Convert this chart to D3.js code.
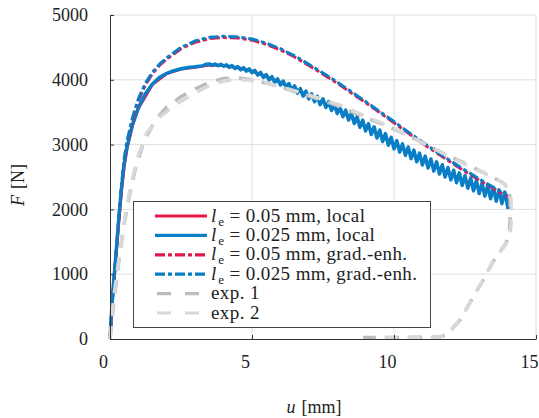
<!DOCTYPE html>
<html>
<head>
<meta charset="utf-8">
<script src="https://cdn.jsdelivr.net/npm/d3@7"></script>
<style>
  html, body { margin: 0; padding: 0; background: #fff; }
  svg text { font-family: 'Liberation Serif', 'Times New Roman', serif; fill: #222; }
</style>
</head>
<body>
<div class="graph-container"></div>
<script>
// displacement u [mm] vs force F [N]
const localRed = [
    [0, 0], [0.1, 700], [0.2, 1230], [0.3, 1780], [0.4, 2280], [0.5, 2680], [0.6, 2950], [0.8, 3310],
    [1.0, 3560], [1.5, 3930], [2.0, 4095], [2.5, 4165], [3.0, 4195], [3.5, 4230], [4.0, 4220], [4.5, 4185],
    [5.0, 4135], [5.5, 4050], [6.0, 3960], [6.5, 3860], [7.0, 3755], [7.5, 3650], [8.0, 3540], [8.5, 3420],
    [9.0, 3280], [9.5, 3150], [10.0, 3010], [10.5, 2885], [11.0, 2765], [11.5, 2650], [12.0, 2540],
    [12.5, 2435], [13.0, 2335], [13.5, 2240], [14.0, 2150], [14.02, 2010]
];
const localBlue = [
    [0, 0], [0.05, 380], [0.1, 720], [0.2, 1250], [0.3, 1800], [0.4, 2300], [0.5, 2700], [0.6, 2960],
    [0.8, 3320], [1.0, 3570], [1.25, 3790], [1.5, 3940], [1.75, 4040], [2.0, 4100], [2.25, 4140],
    [2.5, 4170], [2.75, 4190], [3.0, 4200], [3.25, 4215], [3.4, 4240],
    [3.5, 4245], [3.6, 4222], [3.7, 4243], [3.8, 4216], [3.9, 4241], [4.0, 4210], [4.1, 4233], [4.2, 4192],
    [4.3, 4219], [4.4, 4174], [4.5, 4205], [4.6, 4154], [4.7, 4187], [4.8, 4132], [4.9, 4169], [5.0, 4110],
    [5.1, 4144], [5.2, 4073], [5.3, 4113], [5.4, 4036], [5.5, 4082], [5.6, 3998], [5.7, 4049], [5.8, 3959],
    [5.9, 4016], [6.0, 3920], [6.1, 3981], [6.2, 3878], [6.3, 3943], [6.4, 3836], [6.5, 3905], [6.6, 3793],
    [6.7, 3865], [6.8, 3749], [6.9, 3825], [7.0, 3705], [7.1, 3785], [7.2, 3661], [7.3, 3745], [7.4, 3617],
    [7.5, 3705], [7.6, 3572], [7.7, 3663], [7.8, 3526], [7.9, 3621], [8.0, 3480], [8.1, 3577], [8.2, 3430],
    [8.3, 3531], [8.4, 3380], [8.5, 3485], [8.6, 3326], [8.7, 3431], [8.8, 3268], [8.9, 3377], [9.0, 3210],
    [9.1, 3325], [9.2, 3156], [9.3, 3275], [9.4, 3102], [9.5, 3224], [9.6, 3048], [9.7, 3169], [9.8, 2991],
    [9.9, 3113], [10.0, 2935], [10.1, 3061], [10.2, 2884], [10.3, 3012], [10.4, 2833], [10.5, 2963],
    [10.6, 2783], [10.7, 2916], [10.8, 2734], [10.9, 2869], [11.0, 2685], [11.1, 2823], [11.2, 2638],
    [11.3, 2778], [11.4, 2591], [11.5, 2733], [11.6, 2545], [11.7, 2690], [11.8, 2500], [11.9, 2647],
    [12.0, 2455], [12.1, 2605], [12.2, 2412], [12.3, 2564], [12.4, 2369], [12.5, 2523], [12.6, 2327],
    [12.7, 2484], [12.8, 2286], [12.9, 2445], [13.0, 2245], [13.1, 2407], [13.2, 2205], [13.3, 2371],
    [13.4, 2165], [13.5, 2335], [13.6, 2126], [13.7, 2301], [13.8, 2088], [13.9, 2267], [14.0, 2050],
    [14.02, 2010]
];
const gradRed = [
    [0, 0], [0.1, 690], [0.2, 1220], [0.3, 1790], [0.4, 2310], [0.5, 2740], [0.6, 3020], [0.8, 3390],
    [1.0, 3680], [1.25, 3925], [1.5, 4100], [1.75, 4225], [2.0, 4320], [2.5, 4480], [3.0, 4580],
    [3.5, 4635], [4.0, 4652], [4.5, 4645], [5.0, 4612], [5.5, 4548], [6.0, 4462], [6.5, 4352],
    [7.0, 4222], [7.5, 4088], [8.0, 3948], [8.5, 3798], [9.0, 3648], [9.5, 3493], [10.0, 3338],
    [10.5, 3178], [11.0, 3022], [11.5, 2872], [12.0, 2727], [12.5, 2587], [13.0, 2452], [13.5, 2322],
    [14.0, 2197]
];
const gradBlue = [
    [0, 0], [0.1, 720], [0.2, 1260], [0.3, 1830], [0.4, 2360], [0.5, 2790], [0.6, 3060], [0.8, 3430],
    [1.0, 3710], [1.25, 3950], [1.5, 4120], [1.75, 4245], [2.0, 4340], [2.5, 4500], [3.0, 4600],
    [3.5, 4655], [4.0, 4672], [4.5, 4662], [5.0, 4630], [5.5, 4565], [6.0, 4480], [6.5, 4370],
    [7.0, 4240], [7.5, 4105], [8.0, 3965], [8.5, 3815], [9.0, 3665], [9.5, 3510], [10.0, 3355],
    [10.5, 3195], [11.0, 3040], [11.5, 2890], [12.0, 2745], [12.5, 2605], [13.0, 2470], [13.5, 2340],
    [14.0, 2215]
];
const exp1 = [
    [0, 0], [0.1, 420], [0.2, 800], [0.3, 1150], [0.4, 1480], [0.5, 1780], [0.7, 2250], [0.9, 2640],
    [1.2, 3060], [1.6, 3380], [2.0, 3580], [2.5, 3740], [3.0, 3860], [3.5, 3960], [4.0, 4020],
    [4.5, 4030], [5.0, 4000], [5.5, 3950], [6.0, 3890], [6.5, 3820], [7.0, 3750], [7.5, 3680],
    [8.0, 3600], [8.5, 3510], [9.0, 3420], [9.5, 3330], [10.0, 3240], [10.5, 3140], [11.0, 3030],
    [11.5, 2920], [12.0, 2810], [12.5, 2710], [13.0, 2600], [13.5, 2490], [13.8, 2420], [14.0, 2350],
    [14.08, 2200], [14.1, 1950], [14.07, 1700], [13.95, 1480], [13.7, 1330], [13.5, 1200], [13.14, 910],
    [12.79, 650], [12.32, 290], [11.86, 70], [11.6, 30], [10.5, 25], [9.5, 25], [8.6, 25]
];
const exp2 = [
    [0, 0], [0.12, 600], [0.23, 960], [0.35, 1370], [0.53, 1890], [0.7, 2300], [0.94, 2760],
    [1.29, 3175], [1.76, 3430], [2.2, 3580], [2.58, 3690], [3.0, 3800], [3.4, 3890], [4.0, 3980],
    [4.5, 4010], [5.0, 3990], [5.5, 3950], [6.1, 3880], [7.04, 3760], [8.1, 3610], [9.04, 3430],
    [9.97, 3255], [10.8, 3070], [11.5, 2917], [12.0, 2800], [12.56, 2685], [13.0, 2595], [13.44, 2505],
    [13.8, 2420], [14.03, 2320], [14.12, 2150], [14.14, 1900], [14.1, 1650], [13.95, 1470], [13.7, 1320],
    [13.5, 1220], [13.14, 910], [12.79, 650], [12.32, 290], [11.86, 65], [11.6, 30], [10.5, 25], [9.3, 25]
];

const xTicks = [0, 5, 10, 15];
const yTicks = [0, 1000, 2000, 3000, 4000, 5000];

const red = '#e5194c', blue = '#087ec6', gray1 = '#bcbcbc', gray2 = '#d8d8d8';
const gradDash = '10,3,4,3', expDash = '13,10';

const series = [
    { data: localRed, color: red, dash: null, width: 3, label: ['0.05 mm, local'] },
    { data: localBlue, color: blue, dash: null, width: 3.5, label: ['0.025 mm, local'] },
    { data: gradRed, color: red, dash: gradDash, width: 3, label: ['0.05 mm, grad.-enh.'] },
    { data: gradBlue, color: blue, dash: gradDash, width: 3, label: ['0.025 mm, grad.-enh.'] },
    { data: exp1, color: gray1, dash: expDash, width: 3.5, label: 'exp. 1' },
    { data: exp2, color: gray2, dash: expDash, width: 3.5, label: 'exp. 2' }
];

const [width, height] = [539, 418];
const margin = { top: 15, right: 3, bottom: 79, left: 110 };

const x = d3.scaleLinear().domain([0, 15]).range([margin.left, width - margin.right]);
const y = d3.scaleLinear().domain([0, 5000]).range([height - margin.bottom, margin.top]);

const svg = d3.select('div.graph-container')
    .append('svg')
    .attr('width', width)
    .attr('height', height);

// grid
svg.append('g')
    .selectAll('line')
    .data(yTicks.slice(1))
    .join('line')
    .attr('x1', x(0)).attr('x2', x(15))
    .attr('y1', d => y(d)).attr('y2', d => y(d))
    .attr('stroke', '#dedede').attr('stroke-width', 1);
svg.append('g')
    .selectAll('line')
    .data(xTicks.slice(1))
    .join('line')
    .attr('x1', d => x(d)).attr('x2', d => x(d))
    .attr('y1', y(0)).attr('y2', y(5000))
    .attr('stroke', '#dedede').attr('stroke-width', 1);

// curves
const line = d3.line().x(d => x(d[0])).y(d => y(d[1]));
svg.append('g')
    .selectAll('path')
    .data(series)
    .join('path')
    .attr('d', d => line(d.data))
    .attr('fill', 'none')
    .attr('stroke', d => d.color)
    .attr('stroke-width', d => d.width)
    .attr('stroke-dasharray', d => d.dash)
    .attr('stroke-linejoin', 'round');

// axes (ticks point inward)
const yAxis = svg.append('g')
    .attr('transform', `translate(${x(0)},0)`)
    .call(d3.axisLeft(y).tickValues(yTicks).tickFormat(d3.format('d'))
        .tickSize(-4).tickSizeOuter(0).tickPadding(22));
const xAxis = svg.append('g')
    .attr('transform', `translate(0,${y(0)})`)
    .call(d3.axisBottom(x).tickValues(xTicks).tickFormat(d3.format('d'))
        .tickSize(-4).tickSizeOuter(0).tickPadding(16));
[xAxis, yAxis].forEach(a => {
    a.select('.domain').attr('stroke', '#333');
    a.selectAll('.tick line').attr('stroke', '#333');
    a.selectAll('.tick text').attr('font-size', 18).attr('font-family', null).attr('fill', '#222');
});
xAxis.selectAll('.tick text').attr('dx', -7);

// axis labels
const xLabel = svg.append('text')
    .attr('x', 314).attr('y', 413)
    .attr('text-anchor', 'middle')
    .attr('font-size', 18);
xLabel.append('tspan').attr('font-style', 'italic').text('u');
xLabel.append('tspan').attr('dx', 6).text('[mm]');

const yLabel = svg.append('text')
    .attr('transform', 'translate(24,185) rotate(-90)')
    .attr('text-anchor', 'middle')
    .attr('font-size', 18);
yLabel.append('tspan').attr('font-style', 'italic').text('F');
yLabel.append('tspan').attr('dx', 6).text('[N]');

// legend
const legend = svg.append('g');
legend.append('rect')
    .attr('x', 133.5).attr('y', 201.5)
    .attr('width', 297).attr('height', 126)
    .attr('fill', '#fff')
    .attr('stroke', '#444').attr('stroke-width', 1);

const rowY = i => 216 + i * 19.4;
const rows = legend.selectAll('g.row')
    .data(series)
    .join('g')
    .attr('class', 'row')
    .attr('transform', (d, i) => `translate(0,${rowY(i)})`);
rows.append('line')
    .attr('x1', d => d.dash === expDash ? 157 : 155)
    .attr('x2', d => d.dash === expDash ? 199 : 207)
    .attr('stroke', d => d.color)
    .attr('stroke-width', 3.2)
    .attr('stroke-dasharray', d => d.dash === expDash ? '14,14' : d.dash);
rows.each(function (d) {
    const t = d3.select(this).append('text')
        .attr('x', 211).attr('y', 5.5)
        .attr('font-size', 19)
        .attr('letter-spacing', 0.4);
    if (Array.isArray(d.label)) {
        t.append('tspan').attr('font-style', 'italic').text('l');
        t.append('tspan').attr('font-size', 13).attr('dx', 1.5).attr('dy', 4).text('e');
        t.append('tspan').attr('dy', -4).text(' = ' + d.label[0]);
    } else {
        t.text(d.label);
    }
});
</script>
</body>
</html>
